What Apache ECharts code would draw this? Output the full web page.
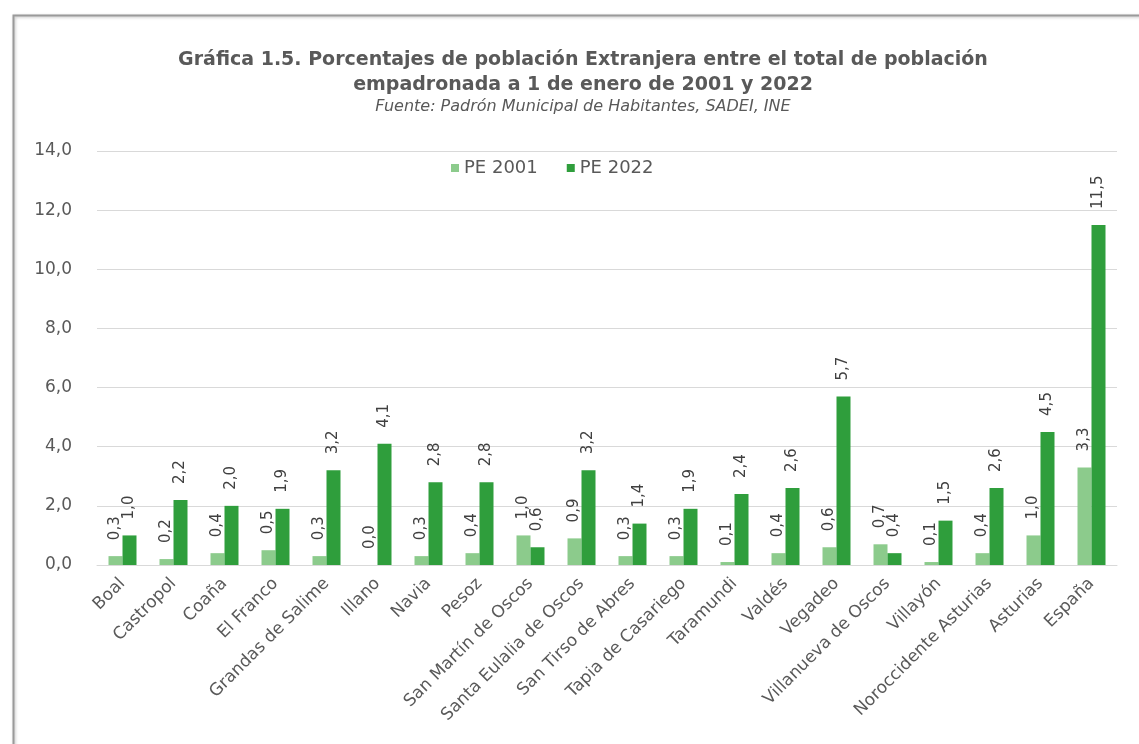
<!DOCTYPE html>
<html>
<head>
<meta charset="utf-8">
<script src="https://cdn.jsdelivr.net/npm/echarts@6/dist/echarts.min.js"></script>
<style>
html,body{margin:0;padding:0;background:#fff;}
#chart{width:1139px;height:744px;}
</style>
</head>
<body>
<div id="chart"></div>
<script>
const categories = ["Boal","Castropol","Coaña","El Franco","Grandas de Salime","Illano","Navia","Pesoz","San Martín de Oscos","Santa Eulalia de Oscos","San Tirso de Abres","Tapia de Casariego","Taramundi","Valdés","Vegadeo","Villanueva de Oscos","Villayón","Noroccidente Asturias","Asturias","España"];
const pe2001 = [0.3,0.2,0.4,0.5,0.3,0.0,0.3,0.4,1.0,0.9,0.3,0.3,0.1,0.4,0.6,0.7,0.1,0.4,1.0,3.3];
const pe2022 = [1.0,2.2,2.0,1.9,3.2,4.1,2.8,2.8,0.6,3.2,1.4,1.9,2.4,2.6,5.7,0.4,1.5,2.6,4.5,11.5];
const seriesNames = ["PE 2001","PE 2022"];
const yTicks = {min:0, max:14, interval:2};

const chart = echarts.init(document.getElementById('chart'), null, {renderer:'canvas'});
const fontFam = '"DejaVu Sans", sans-serif';
const fmt = v => v.toFixed(1).replace('.', ',');
const labelCfg = {
  show:true, position:'top', rotate:90, align:'left', verticalAlign:'middle',
  distance:16, color:'#404040', fontSize:15, fontFamily:fontFam,
  formatter: p => fmt(p.value)
};
chart.setOption({
  backgroundColor:'#fff',
  animation:false,
  textStyle:{fontFamily:fontFam},
  graphic:[{
    type:'rect', left:11, top:13, shape:{width:1140, height:740},
    style:{fill:'none', stroke:'#9a9a9a', lineWidth:2, shadowColor:'rgba(0,0,0,0.25)', shadowBlur:3, shadowOffsetX:1, shadowOffsetY:1},
    silent:true, z:-1
  }],
  title:{
    text:'Gráfica 1.5. Porcentajes de población Extranjera entre el total de población\nempadronada a 1 de enero de 2001 y 2022',
    subtext:'Fuente: Padrón Municipal de Habitantes, SADEI, INE',
    left:578, textAlign:'center', top:43, itemGap:1,
    textStyle:{fontSize:19, fontWeight:'bold', color:'#595959', lineHeight:25, fontFamily:fontFam},
    subtextStyle:{fontSize:16, fontStyle:'italic', color:'#595959', fontFamily:fontFam}
  },
  legend:{
    data:seriesNames, left:446, top:154, itemWidth:8, itemHeight:8, itemGap:29,
    icon:'rect', textStyle:{fontSize:18, color:'#595959', fontFamily:fontFam}
  },
  grid:{left:97, right:22, top:151, bottom:179, containLabel:false},
  xAxis:{
    type:'category', data:categories,
    axisLine:{lineStyle:{color:'#d9d9d9'}}, axisTick:{show:false},
    axisLabel:{rotate:45, interval:0, color:'#595959', fontSize:17, fontFamily:fontFam, margin:16}
  },
  yAxis:{
    type:'value', min:yTicks.min, max:yTicks.max, interval:yTicks.interval,
    axisLine:{show:false}, axisTick:{show:false},
    splitLine:{lineStyle:{color:'#d9d9d9', width:1}},
    axisLabel:{color:'#595959', fontSize:17, fontFamily:fontFam, margin:25, formatter: v => fmt(v)}
  },
  series:[
    {name:seriesNames[0], type:'bar', data:pe2001, barWidth:14, barGap:'0%',
     itemStyle:{color:'#8ccb8c'}, label:labelCfg},
    {name:seriesNames[1], type:'bar', data:pe2022, barWidth:14,
     itemStyle:{color:'#2f9e3c'}, label:labelCfg}
  ]
});
</script>
</body>
</html>
